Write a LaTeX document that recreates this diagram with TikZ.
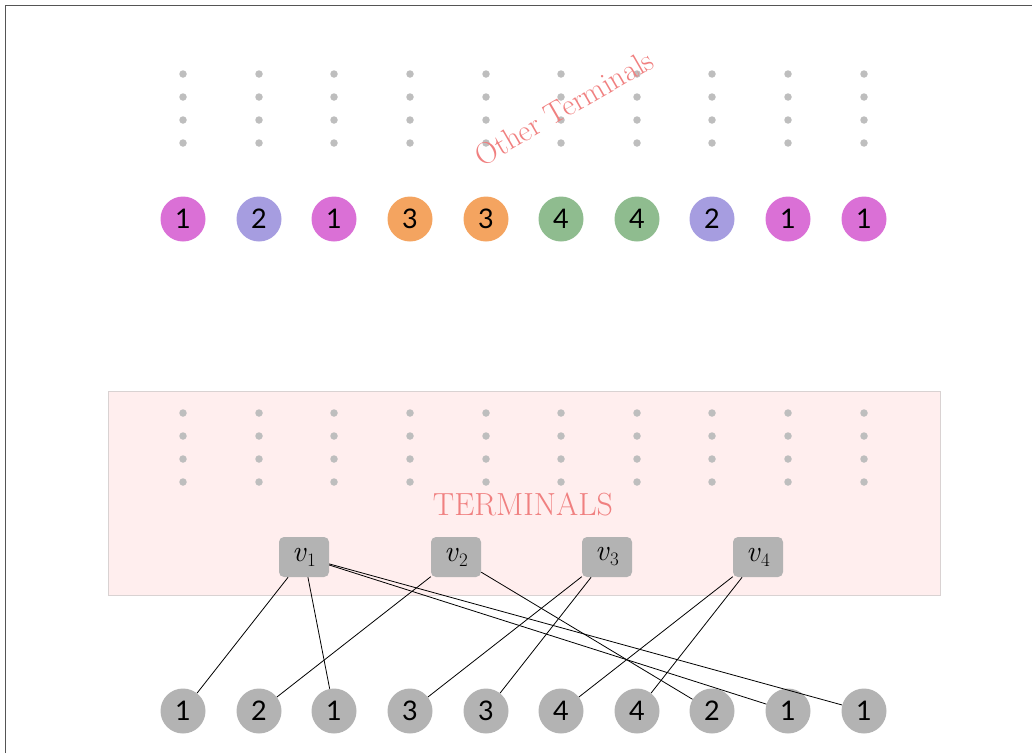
\documentclass[tikz,border=0pt]{standalone}
\usepackage{fontspec}
\newfontfamily\digitfont{Lato}
\definecolor{dotgray}{HTML}{BEBEBE}
\definecolor{vgray}{HTML}{B3B3B3}
\definecolor{orchidc}{HTML}{DA70D6}
\definecolor{purpc}{HTML}{A69DE0}
\definecolor{orangec}{HTML}{F4A460}
\definecolor{greenc}{HTML}{8FBC8F}
\definecolor{coralc}{HTML}{F08080}
\definecolor{boxfill}{HTML}{FFEEEE}
\definecolor{boxborder}{HTML}{D9D2D2}
\definecolor{framec}{HTML}{555555}
\newcommand{\vlab}[1]{\textit{v}\kern0.5pt\raisebox{-5pt}{\fontsize{19}{19}\selectfont #1}}
\begin{document}
\begin{tikzpicture}[x=1pt,y=-1pt,
  dotst/.style={circle,fill=dotgray,inner sep=0,minimum size=7.5},
  term/.style={circle,inner sep=0,minimum size=45,font=\digitfont\fontsize{27}{27}\selectfont},
  vbox/.style={rounded corners=5,fill=vgray,minimum width=50,minimum height=40,inner sep=0,font=\fontsize{30}{30}\selectfont},
  lbl/.style={text=coralc,inner sep=0},
  edge/.style={black,line width=0.8}]
\useasboundingbox (0,0) rectangle (1032,753);
\draw[framec,line width=1.3] (5.5,753) -- (5.5,5.5) -- (1032,5.5);
\node[draw=boxborder,fill=boxfill,line width=0.8,minimum width=832,minimum height=204,inner sep=0] (box) at (524,493) {};
\foreach \x [count=\i] in {183,259,334,410,486,561,637,712,788,864}{
  \foreach \y [count=\j] in {74,97,120,143}{
    \node[dotst] (td\i\j) at (\x,\y) {};
  }
  \foreach \y [count=\j] in {413,436,459,482}{
    \node[dotst] (bd\i\j) at (\x,\y) {};
  }
}
\node[lbl,rotate=30,font=\fontsize{30.5}{30.5}\selectfont] (other) at (564,108) {Other Terminals};
\node[lbl,font=\fontsize{32}{32}\selectfont] (terms) at (523,504) {TERMINALS};
\foreach \x/\c/\n [count=\i] in {183/orchidc/1,259/purpc/2,334/orchidc/1,410/orangec/3,486/orangec/3,561/greenc/4,637/greenc/4,712/purpc/2,788/orchidc/1,864/orchidc/1}{
  \node[term,fill=\c] (t\i) at (\x,219) {\n};
  \node[term,fill=vgray] (b\i) at (\x,711) {\n};
}
\node[vbox] (v1) at (304,557) {\vlab{1}};
\node[vbox] (v2) at (456,557) {\vlab{2}};
\node[vbox] (v3) at (607,557) {\vlab{3}};
\node[vbox] (v4) at (758,557) {\vlab{4}};
\draw[edge] (v1) -- (b1);
\draw[edge] (v1) -- (b3);
\draw[edge] (v1) -- (b9);
\draw[edge] (v1) -- (b10);
\draw[edge] (v2) -- (b2);
\draw[edge] (v2) -- (b8);
\draw[edge] (v3) -- (b4);
\draw[edge] (v3) -- (b5);
\draw[edge] (v4) -- (b6);
\draw[edge] (v4) -- (b7);
\end{tikzpicture}
\end{document}
